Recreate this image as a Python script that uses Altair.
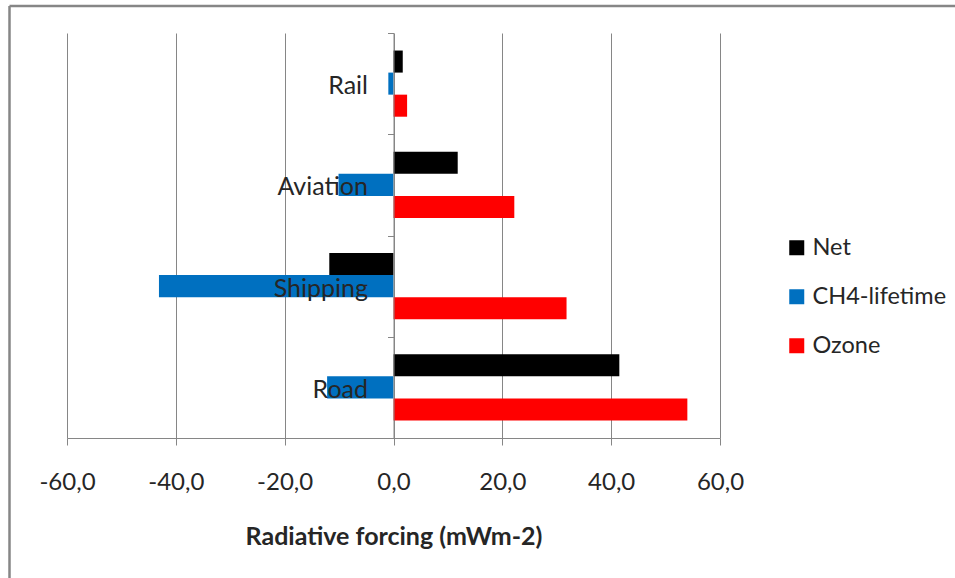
import altair as alt
import pandas as pd

categories = ["Rail", "Aviation", "Shipping", "Road"]
series = ["Net", "CH4-lifetime", "Ozone"]
net = [1.7, 11.8, -11.8, 41.5]
ch4 = [-0.95, -10.1, -43.1, -12.2]
ozone = [2.5, 22.2, 31.8, 54.0]
colors = ["#000000", "#0070C0", "#FF0000"]
tick_values = [-60, -40, -20, 0, 20, 40, 60]

rows = []
for i, c in enumerate(categories):
    for s, vals in zip(series, [net, ch4, ozone]):
        rows.append({"category": c, "series": s, "value": vals[i]})
df = pd.DataFrame(rows)

font = "Lato"
text_color = "#262626"
line_color = "#868686"
W, H = 653, 405

y = alt.Y(
    "category:N",
    sort=categories,
    scale=alt.Scale(paddingInner=0, paddingOuter=0),
    axis=alt.Axis(
        title=None, offset=-W / 2, tickBand="extent", tickSize=6,
        labelPadding=20, labelFontSize=25, labelFont=font, labelColor=text_color,
        labelOffset=2,
        domainColor=line_color, tickColor=line_color, zindex=1, grid=False,
    ),
)
x = alt.X(
    "value:Q",
    scale=alt.Scale(domain=[-60, 60], nice=False, zero=False),
    axis=alt.Axis(
        values=tick_values,
        title="Radiative forcing (mWm-2)",
        labelExpr="(datum.value < 0 ? '-' : '') + replace(format(abs(datum.value), '.1f'), '.', ',')",
        grid=True, gridColor=line_color, domainColor=line_color, tickColor=line_color,
        tickSize=7, labelFontSize=24, labelFont=font, labelColor=text_color,
        labelPadding=25, labelFlush=False, labelOverlap=False,
        titleFont=font, titleFontSize=25, titleFontWeight="bold",
        titleColor=text_color, titlePadding=30,
    ),
)

bars = alt.Chart(df).mark_bar().encode(
    x=x,
    y=y,
    yOffset=alt.YOffset("series:N", sort=series,
                        scale=alt.Scale(paddingInner=0, paddingOuter=0.795)),
    color=alt.Color(
        "series:N",
        scale=alt.Scale(domain=series, range=colors),
        legend=alt.Legend(
            title=None, orient="none", legendX=718, legendY=203,
            symbolType="square", symbolSize=225, labelFontSize=23.5,
            labelFont=font, labelColor=text_color, rowPadding=24,
            labelOffset=4, padding=0, symbolStrokeWidth=0,
        ),
    ),
)

dummy = pd.DataFrame({"a": [0]})
frame_top = alt.Chart(dummy).mark_rule(color=line_color, strokeWidth=2.5).encode(
    x=alt.value(9.5 - 67), x2=alt.value(955 - 67), y=alt.value(6 - 33)
)
frame_left = alt.Chart(dummy).mark_rule(color=line_color, strokeWidth=2.5).encode(
    x=alt.value(9.5 - 67), y=alt.value(6 - 33), y2=alt.value(578 - 33)
)

chart = alt.layer(bars, frame_top, frame_left).properties(
    width=W, height=H,
    autosize=alt.AutoSizeParams(type="none"),
    padding={"left": 67, "top": 33, "right": 235, "bottom": 140},
    background="white",
).configure_view(stroke=None)

chart.save("out.html", embed_options={"renderer": "svg", "actions": False})
